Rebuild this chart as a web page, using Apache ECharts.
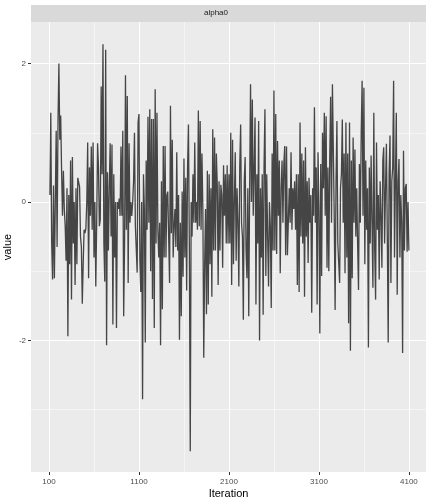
<!DOCTYPE html>
<html>
<head>
<meta charset="utf-8">
<script src="https://cdn.jsdelivr.net/npm/echarts@6/dist/echarts.min.js"></script>
<style>
html,body{margin:0;padding:0;background:#fff;}
#chart{width:432px;height:504px;}
</style>
</head>
<body>
<div id="chart"></div>
<script>
// Facet label
const facetLabel = "alpha0";
// Axis titles
const xTitle = "Iteration";
const yTitle = "value";
// Thinned iterations: first stored iteration and thinning step
const firstIteration = 110;
const thinStep = 10;
// Trace values
const traceValues = [
 0.1, 1.29, -0.6, -1.12, 0.24, -1.1, 0.0, 1.03, -0.65, 1.15, 2.0,
 0.9, 1.25, 0.45, -0.2, 0.45, -0.1, -0.35, -0.85, 0.2, -1.94,
 0.1, -0.9, 0.6, -1.41, 0.65, -0.6, 0.0, -1.2, 0.2, -0.9,
 0.35, 0.36, 0.22, -0.5, -0.65, -1.47, -0.9, -0.4, -0.45, -0.38,
 0.0, 0.86, -1.1, 0.5, -0.2, 0.8, -0.4, 0.86, -0.8, 0.0,
 -1.22, -0.3, 0.85, 0.5, -0.35, -0.25, 1.67, 0.4, 2.28, -0.6,
 -1.15, 2.2, -2.07, 0.43, -0.7, 0.2, 0.85, -0.5, 0.83, -1.77,
 0.4, -0.8, 0.0, -1.82, 0.0, -0.1, 0.05, -0.2, 0.8, -0.2,
 1.03, -1.65, -0.6, 1.83, -0.4, 1.53, -1.17, 0.85, -0.3, 0.0,
 -0.2, 0.0, 0.3, 1.0, -0.35, -0.35, -1.02, 1.15, 1.27, -0.85,
 -1.3, 0.0, -2.85, 0.4, -0.1, -2.03, 0.6, -0.4, 1.23, -0.3,
 1.34, -1.0, 1.2, -1.4, 1.2, -1.82, 1.63, -0.6, 1.29, -0.4,
 -0.8, -0.3, -2.07, 0.3, -1.55, 0.81, -0.8, 0.81, -0.8, 0.1,
 0.15, -0.5, -1.17, 1.39, -0.45, 0.9, -0.8, -0.35, -0.1, -0.65,
 0.72, -0.7, 0.1, -1.99, -0.3, -1.65, 0.15, -1.08, 0.63, -0.8,
 0.35, -1.28, 0.5, 1.12, -0.65, -3.6, 0.0, -0.5, 0.4, -0.3,
 0.86, -0.3, 0.0, -0.4, 1.32, -0.35, 1.17, -0.4, 0.7, -0.1, -2.25,
 -0.9, -0.1, -1.62, 0.45, -1.48, 0.4, -0.9, 0.2, -1.37,
 1.05, -0.7, 0.93, -0.7, 0.7, 0.25, -1.2, 0.3, -0.7, 0.25,
 0.1, -0.95, 0.53, -0.2, 0.4, -0.6, 0.53, -0.6, 0.4, -0.6,
 1.0, -1.2, 0.9, -0.9, 0.0, 0.72, -0.85, 0.2, -0.3, -1.22,
 0.5, 1.12, -0.3, -0.5, -1.7, 0.3, 0.65, -0.7, -1.1, 0.2,
 -1.65, 0.2, 1.7, 0.0, 1.48, -0.2, 0.5, 1.22, -1.48, 0.4,
 -0.6, 1.17, -2.0, 0.2, -0.8, 0.4, -1.63, 0.5, 1.34, -1.07,
 0.4, -0.5, -1.22, 0.0, -0.35, -1.53, 0.7, -0.7, 1.61, -0.7,
 1.27, -0.75, 0.88, -0.2, 0.6, -1.03, 0.2, 0.6, -0.3, 0.55,
 0.81, -0.77, 0.8, -0.77, -0.77, 0.2, -0.3, 0.72, -0.4, 0.2,
 -0.1, 0.3, -0.4, 0.4, -1.2, 0.4, -1.3, 1.15, -0.5, 0.7,
 -0.6, 0.6, -1.37, 0.79, -0.5, 0.3, -0.88, 0.35, -0.3, 0.1,
 -1.6, 0.2, -0.2, 1.37, -0.3, 0.5, -1.48, 0.72, -0.1, -1.9,
 0.55, -1.07, 1.0, 0.2, 1.29, -0.2, 1.24, -0.95, 0.5, -1.0,
 0.6, 1.52, -0.3, 1.7, 1.72, -0.2, -1.56, 0.3, 1.17, -0.6,
 -0.6, -1.17, 0.2, 0.4, 1.19, -0.3, 0.7, -1.03, 1.15, -0.8,
 0.7, -1.75, 1.15, -2.15, 0.6, -1.1, 0.93, -0.3, 0.76, -0.5,
 0.2, -0.6, -1.27, 0.55, -0.3, 1.0, 1.75, -0.2, 1.65, -0.9,
 0.6, -0.4, 0.2, -2.1, 0.5, -0.6, 0.67, -0.3, -1.24, 1.29,
 -0.7, -1.41, 0.86, -0.4, 0.1, -1.12, 0.3, -0.2, -0.95, 0.6,
 0.79, -0.6, 0.2, 0.84, -0.5, -2.03, 0.4, 0.96, -1.17, 0.3,
 0.5, 1.75, -0.8, 0.29, 1.29, -1.34, 0.3, 0.62, -0.8, 0.1,
 -0.3, -2.18, 0.74, -0.7, 0.2, 0.26, -0.72, 0.0, -0.7
];
// Tick labels / breaks
const xBreaks = [100, 1100, 2100, 3100, 4100];
const xMinorBreaks = [600, 1600, 2600, 3600];
const yBreaks = [-2, 0, 2];
const yMinorBreaks = [-3, -1, 1];

const iterations = traceValues.map((_, i) => firstIteration + i * thinStep);
const seriesData = traceValues.map((v, i) => [iterations[i], v]);

const chart = echarts.init(document.getElementById('chart'), null, {renderer: 'canvas'});

const gridML = (vals, key, w) => vals.map(v => ({[key]: v, lineStyle: {color: '#FFFFFF', width: w, type: 'solid'}}));

const font = 'Liberation Sans, Arial, sans-serif';

chart.setOption({
  animation: false,
  backgroundColor: '#FFFFFF',
  grid: {
    left: 31, right: 6, top: 22, bottom: 32,
    show: true, backgroundColor: '#EBEBEB', borderWidth: 0,
    containLabel: false, outerBoundsMode: 'none'
  },
  xAxis: {
    type: 'value', min: -100, max: 4290,
    name: xTitle, nameLocation: 'middle', nameGap: 16, nameMoveOverlap: false,
    nameTextStyle: {color: '#000000', fontSize: 11, fontFamily: font},
    axisLine: {show: false, onZero: false},
    axisTick: {show: true, customValues: xBreaks, length: 3, lineStyle: {color: '#333333', width: 1}},
    axisLabel: {customValues: xBreaks, formatter: v => String(v), color: '#4D4D4D', fontSize: 8, fontFamily: font, margin: 6},
    splitLine: {show: false}
  },
  yAxis: {
    type: 'value', min: -3.9, max: 2.6,
    name: yTitle, nameLocation: 'middle', nameGap: 18, nameRotate: 90, nameMoveOverlap: false,
    nameTextStyle: {color: '#000000', fontSize: 11, fontFamily: font},
    axisLine: {show: false, onZero: false},
    axisTick: {show: true, customValues: yBreaks, length: 3, lineStyle: {color: '#333333', width: 1}},
    axisLabel: {customValues: yBreaks, formatter: v => String(v), color: '#4D4D4D', fontSize: 8, fontFamily: font, margin: 5},
    splitLine: {show: false}
  },
  graphic: [
    {type: 'rect', left: 31, top: 5, shape: {width: 395, height: 17}, style: {fill: '#D9D9D9'}, silent: true},
    {type: 'text', left: 'center', top: 9, style: {text: facetLabel, fill: '#1A1A1A', font: '8px ' + font, x: 0}, silent: true}
  ],
  series: [
    {
      type: 'line', data: [], silent: true, z: 0,
      markLine: {
        z: 0, zlevel: 0,
        silent: true, symbol: 'none', label: {show: false}, animation: false,
        data: [].concat(
          gridML(xMinorBreaks, 'xAxis', 0.5),
          gridML(yMinorBreaks, 'yAxis', 0.5),
          gridML(xBreaks, 'xAxis', 1),
          gridML(yBreaks, 'yAxis', 1)
        )
      }
    },
    {
      type: 'line', data: seriesData, z: 10,
      showSymbol: false, symbol: 'none',
      lineStyle: {color: '#454545', width: 1.3},
      silent: true
    }
  ]
});
</script>
</body>
</html>
